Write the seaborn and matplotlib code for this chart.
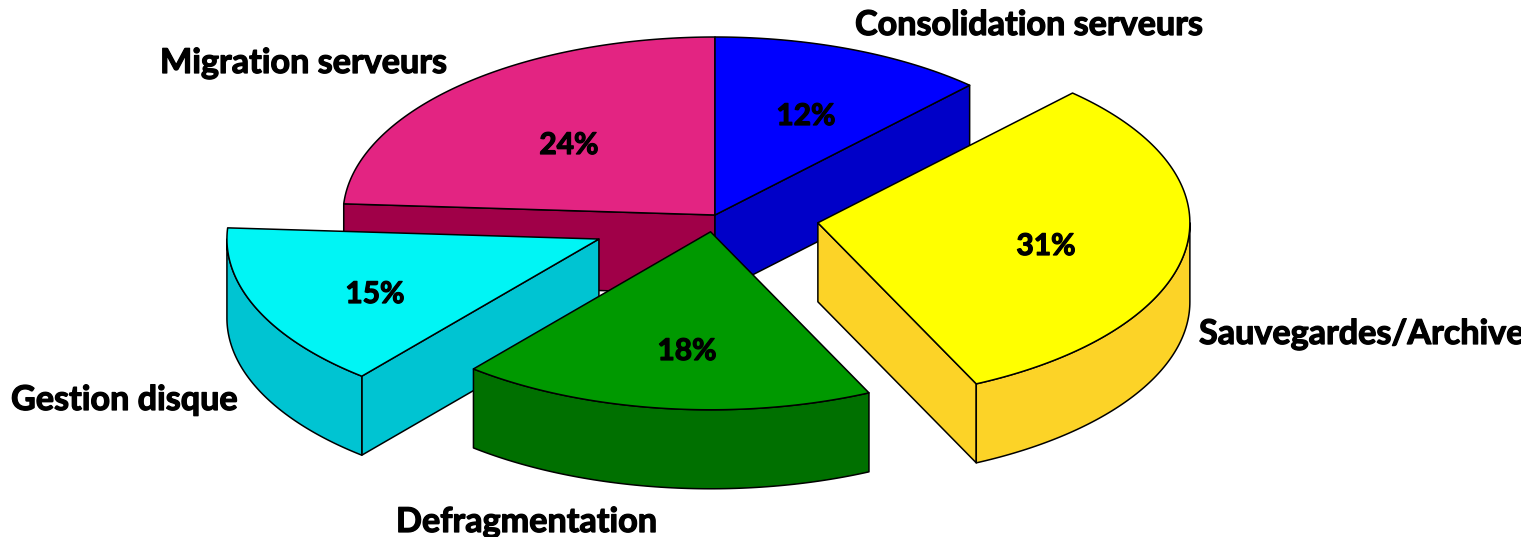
import numpy as np
import matplotlib
matplotlib.use('Agg')
import matplotlib.pyplot as plt
import matplotlib.patheffects as pe
from matplotlib.transforms import Bbox
import seaborn as sns

# Chart values, clockwise from 12 o'clock
categories = ['Consolidation serveurs', 'Sauvegardes/Archives', 'Defragmentation',
              'Gestion disque', 'Migration serveurs']
shares = [12, 31, 18, 15, 24]

top_colors = ['#0000FF', '#FFFF00', '#009900', '#00F5F5', '#E32482']
side_colors = ['#0000C8', '#FCD327', '#007000', '#00C4D2', '#A00048']
explode = [0, 0.28, 0.095, 0.34, 0]
draw_order = [4, 0, 3, 2, 1]

# Pie placement on the pixel-sized axes
cx, cy = 715, 215
rx, ry = 372, 178
depth = 79

label_pos = [(855, 25), (1199, 334), (396, 522), (11, 400), (160, 63)]
pct_pos = [(806, 116), (1046, 246), (687, 351), (375, 294), (569, 145)]

sns.set_theme(style='white')
plt.rcParams['font.family'] = ['Lato', 'DejaVu Sans']

fig, ax = plt.subplots(figsize=(15.25, 5.37), dpi=100)
ax.set_position([0, 0, 1, 1])
ax.set_xlim(0, 1525)
ax.set_ylim(537, 0)
ax.axis('off')

# Lato bold is lighter than the original lettering
heavy = [pe.withStroke(linewidth=0.9, foreground='black')]


def ellipse(angles, ox, oy):
    return ox + rx * np.sin(angles), oy - ry * np.cos(angles)


def draw_face(xs, ys, color, z):
    ax.fill(xs, ys, facecolor=color, edgecolor='black', linewidth=1.1, joinstyle='round', zorder=z)


# Wedge angles come from the shares
edges = np.radians(np.cumsum([0] + shares) * 3.6)

for z, i in enumerate(draw_order):
    a0, a1 = edges[i], edges[i + 1]
    mid = (a0 + a1) / 2
    ox = cx + explode[i] * rx * np.sin(mid)
    oy = cy - explode[i] * ry * np.cos(mid)

    # cut faces that turn towards the viewer
    for a, visible in [(a0, np.sin(a0) < -1e-6), (a1, np.sin(a1) > 1e-6)]:
        if visible:
            ex, ey = ellipse(a, ox, oy)
            draw_face([ox, ex, ex, ox], [oy, ey, ey + depth, oy + depth], side_colors[i], z * 3)

    # outer rim, front half only
    lo, hi = max(a0, np.pi / 2), min(a1, 3 * np.pi / 2)
    if hi > lo:
        t = np.linspace(lo, hi, 80)
        rim_x, rim_y = ellipse(t, ox, oy)
        draw_face(np.r_[rim_x, rim_x[::-1]], np.r_[rim_y, rim_y[::-1] + depth], side_colors[i], z * 3 + 1)

    # top of the wedge
    t = np.linspace(a0, a1, 120)
    top_x, top_y = ellipse(t, ox, oy)
    draw_face(np.r_[ox, top_x], np.r_[oy, top_y], top_colors[i], z * 3 + 2)

    ax.text(*pct_pos[i], f'{shares[i]}%', fontsize=21.5, fontweight='bold', color='black',
            ha='center', va='center', zorder=50, path_effects=heavy)

# Labels, the right-hand one runs off the slide
clip = Bbox([[0, 0], [1521, 537]])
for name, pos in zip(categories, label_pos):
    t = ax.text(*pos, name, fontsize=24.6, fontweight='bold', color='black',
                ha='left', va='center', zorder=50, clip_on=True, path_effects=heavy)
    t.set_clip_box(clip)

fig.savefig('out.png', dpi=100, facecolor='white')
